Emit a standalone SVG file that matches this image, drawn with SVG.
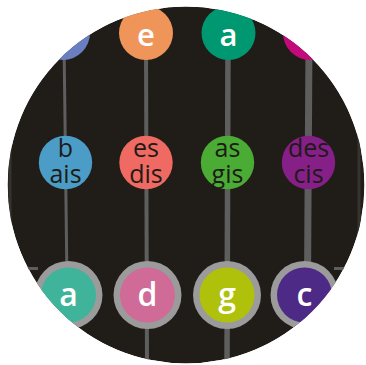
<svg xmlns="http://www.w3.org/2000/svg" width="366" height="365" viewBox="0 0 366 365">
<style>
.str{stroke:#5e5e5e;fill:none}
.edge{stroke:#36332f;stroke-width:3;fill:none}
.ring{fill:#9b9b9b}
.wt{fill:#ffffff;font-family:"Open Sans","Noto Sans",sans-serif;font-weight:600;text-anchor:middle}
.dk{fill:#1e1b17;font-family:"Open Sans","Noto Sans",sans-serif;font-weight:500;font-size:25px;text-anchor:middle}
</style>
<defs>
<clipPath id="disk"><circle cx="186" cy="185" r="178.5"/></clipPath>
</defs>
<rect width="366" height="365" fill="#ffffff"/>
<g clip-path="url(#disk)">
<circle cx="186" cy="185" r="178.5" fill="#201d19"/>
<g id="connectors">
<line class="edge" x1="10" y1="0" x2="10" y2="365"/>
<line class="edge" x1="359" y1="0" x2="359" y2="365"/>
<line class="str" x1="20" y1="268.5" x2="38" y2="268.5" stroke-width="3"/>
<line class="str" x1="334" y1="268.5" x2="356" y2="268.5" stroke-width="3"/>
<line class="str" x1="64" y1="40" x2="68" y2="365" stroke-width="3"/>
<line class="str" x1="146" y1="40" x2="147" y2="365" stroke-width="4"/>
<line class="str" x1="228" y1="40" x2="227" y2="365" stroke-width="5.5"/>
<line class="str" x1="309" y1="40" x2="307" y2="365" stroke-width="7"/>
</g>
<g id="top-1"><circle cx="63" cy="33" r="27" fill="#6a7fc0"/></g>
<g id="top-e"><circle cx="146" cy="33" r="27" fill="#f0955a"/><text class="wt" x="146" y="46" font-size="31">e</text></g>
<g id="top-a"><circle cx="228.5" cy="33" r="27" fill="#009870"/><text class="wt" x="228.5" y="46" font-size="31">a</text></g>
<g id="top-4"><circle cx="310" cy="33" r="27" fill="#c20a7a"/></g>
<g id="mid-b"><circle cx="65.5" cy="162.5" r="26.7" fill="#4b9dc8"/><text class="dk" x="65.5" y="157">b</text><text class="dk" x="65.5" y="183">ais</text></g>
<g id="mid-es"><circle cx="146" cy="162.5" r="26.7" fill="#ee6a62"/><text class="dk" x="146" y="157">es</text><text class="dk" x="146" y="183">dis</text></g>
<g id="mid-as"><circle cx="227.5" cy="162.5" r="26.7" fill="#4aab35"/><text class="dk" x="227.5" y="157">as</text><text class="dk" x="227.5" y="183">gis</text></g>
<g id="mid-des"><circle cx="308.5" cy="162.5" r="26.7" fill="#861f88"/><text class="dk" x="308.5" y="157">des</text><text class="dk" x="308.5" y="183">cis</text></g>
<g id="bot-a"><circle class="ring" cx="68.5" cy="295" r="34"/><circle cx="68.5" cy="295" r="27.5" fill="#3fb49a"/><text class="wt" x="68.5" y="306" font-size="32">a</text></g>
<g id="bot-d"><circle class="ring" cx="147.5" cy="295" r="34"/><circle cx="147.5" cy="295" r="27.5" fill="#d06a97"/><text class="wt" x="147.5" y="306" font-size="32">d</text></g>
<g id="bot-g"><circle class="ring" cx="227" cy="295" r="34"/><circle cx="227" cy="295" r="27.5" fill="#afc10a"/><text class="wt" x="227" y="306" font-size="32">g</text></g>
<g id="bot-c"><circle class="ring" cx="304.5" cy="295" r="34"/><circle cx="304.5" cy="295" r="27.5" fill="#4e2a87"/><text class="wt" x="304.5" y="306" font-size="32">c</text></g>
</g>
</svg>
